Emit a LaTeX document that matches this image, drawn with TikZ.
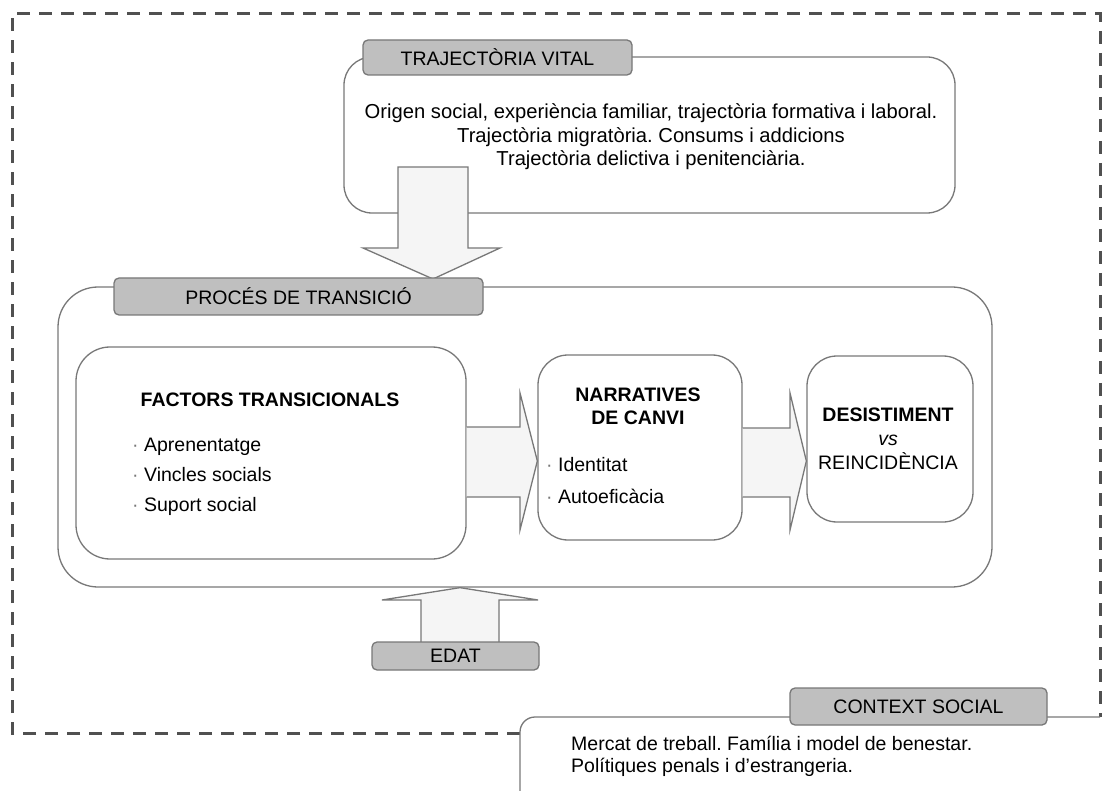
\documentclass[tikz,border=0pt]{standalone}
\usepackage{fontspec}
\setmainfont{Liberation Sans}
\usetikzlibrary{calc}
\definecolor{tabgray}{RGB}{191,191,191}
\definecolor{edgegray}{RGB}{120,120,120}
\definecolor{arrowfill}{RGB}{245,245,245}
\definecolor{dashgray}{RGB}{80,80,80}
\newcommand\fsz{\fontsize{19.5}{23.5}\selectfont}
\frenchspacing
\begin{document}
\begin{tikzpicture}[x=1pt,y=-1pt,
  roundbox/.style={draw=edgegray, line width=1.3pt, fill=white, rounded corners=#1, inner sep=0pt},
  tablabel/.style={draw=edgegray, line width=1.3pt, fill=tabgray, rounded corners=5pt, inner sep=0pt, font=\fsz},
  barrow/.style={draw=edgegray, line width=1.3pt, fill=arrowfill, line join=miter},
  frame/.style={draw=dashgray, line width=3pt, dash pattern=on 13pt off 9pt},
  thinline/.style={draw=edgegray, line width=1.3pt},
  txt/.style={font=\fsz, inner sep=0pt}]
\useasboundingbox (0,0) rectangle (1103,791);
\fill[white] (0,0) rectangle (1103,791);

% outer dashed frame and social context
\coordinate (fs) at (520,733);
\coordinate (fe) at (1100,717);
\draw[frame] (fs) -- (12,733) -- (12,14) -- (1100,14) -- (fe);
\draw[thinline, rounded corners=15pt] (520,800) -- (520,717) -- (fe);

% big boxes
\node[roundbox=28pt, minimum width=611pt, minimum height=156pt] (tv) at (649.5,135) {};
\node[roundbox=40pt, minimum width=934pt, minimum height=300pt] (pt) at (525,437) {};

% down arrow from trajectoria to proces
\draw[barrow] (398,167) -- (468,167) -- (468,248) -- (500,248) -- (433,279) -- (363,248) -- (398,248) -- cycle;

% inner boxes
\node[roundbox=34pt, minimum width=390pt, minimum height=212pt] (fac) at (271,453) {};
\node[roundbox=30pt, minimum width=204pt, minimum height=185pt] (nar) at (640,447.5) {};
\node[roundbox=30pt, minimum width=166pt, minimum height=166pt] (des) at (890,439) {};

% block arrows between inner boxes
\draw[barrow] (fac.east |- 0,427) -- (520,427) -- (520,393) -- (nar.west |- 0,461) -- (520,530) -- (520,497) -- (fac.east |- 0,497);
\draw[barrow] (nar.east |- 0,428) -- (790,428) -- (790,393) -- (des.west |- 0,461) -- (790,530) -- (790,497) -- (nar.east |- 0,497);

% EDAT arrow
\draw[barrow] (421,643) -- (421,600) -- (382,600) -- (pt.south -| 460,0) -- (538,600) -- (499,600) -- (499,643);

% tabs
\node[tablabel, minimum width=269pt, minimum height=35pt] (tvtab) at (497.5,57.5) {TRAJECTÒRIA VITAL};
\node[tablabel, minimum width=369pt, minimum height=37pt] (pttab) at (298.5,296.5) {PROCÉS DE TRANSICIÓ};
\node[tablabel, minimum width=167pt, minimum height=28pt] (edat) at (455.5,656) {EDAT};
\node[tablabel, minimum width=257pt, minimum height=37pt] (cstab) at (918.5,706.5) {CONTEXT SOCIAL};

% texts
\node[txt, align=center, font=\fontsize{20.2}{23.5}\selectfont] (tvtxt) at (651,137) {Origen social, experiència familiar, trajectòria formativa i laboral.\\Trajectòria migratòria. Consums i addicions\\Trajectòria delictiva i penitenciària.};
\node[txt, font=\fsz\bfseries] (factit) at (270,400) {FACTORS TRANSICIONALS};
\node[txt, anchor=west, align=left, font=\fontsize{19.5}{30}\selectfont] (facl) at (132,477) {\textcolor{edgegray}{·} Aprenentatge\\\textcolor{edgegray}{·} Vincles socials\\\textcolor{edgegray}{·} Suport social};
\node[txt, align=center, font=\fontsize{19.5}{23}\selectfont\bfseries] (nartit) at (638,406.5) {NARRATIVES\\DE CANVI};
\node[txt, anchor=west, align=left, font=\fontsize{19.5}{32}\selectfont] (narl) at (546,481) {\textcolor{edgegray}{·} Identitat\\\textcolor{edgegray}{·} Autoeficàcia};
\node[txt, align=center, font=\fontsize{19.5}{24}\selectfont] (destxt) at (888,439) {\textbf{DESISTIMENT}\\\textit{vs}\\REINCIDÈNCIA};
\node[txt, anchor=west, align=left, font=\fontsize{19.5}{22}\selectfont] (cstxt) at (571,756) {Mercat de treball. Família i model de benestar.\\Polítiques penals i d’estrangeria.};
\end{tikzpicture}
\end{document}
